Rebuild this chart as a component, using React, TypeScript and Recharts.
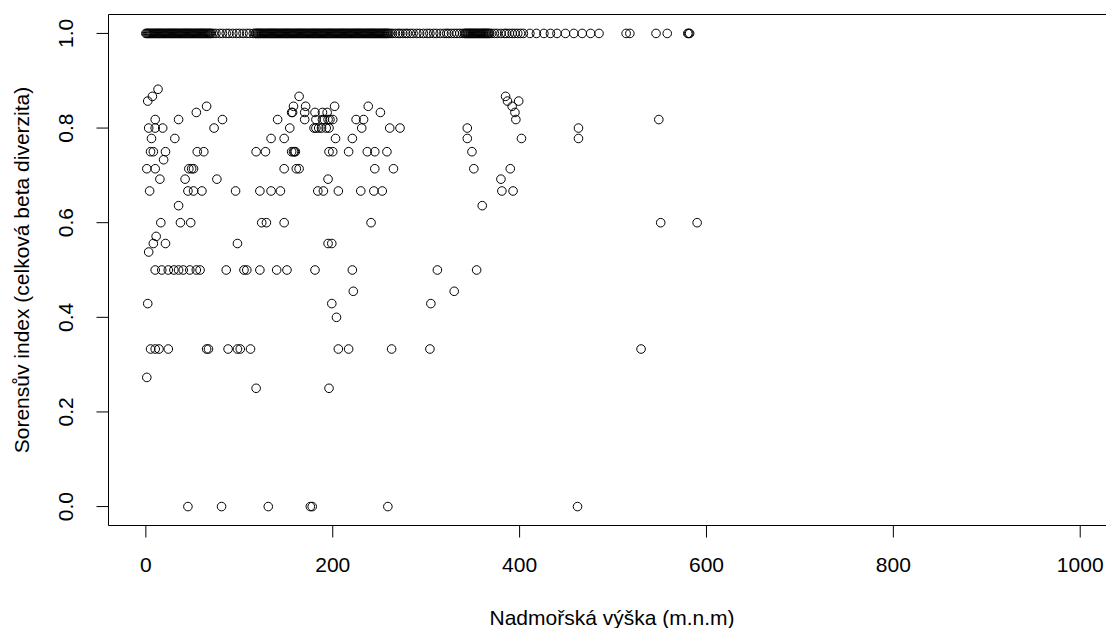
import { ReferenceLine, Scatter, ScatterChart, XAxis, YAxis } from "recharts";

// the picture fills the whole window, so drop the default body margin
if (typeof document !== "undefined") document.body.style.margin = "0";

const FONT = '"Liberation Sans", Arial, sans-serif';

const xTicks = [0, 200, 400, 600, 800, 1000];
const yTicks = [0, 0.2, 0.4, 0.6, 0.8, 1];
const yTickLabels = ["0.0", "0.2", "0.4", "0.6", "0.8", "1.0"];

// x positions (altitude) of the points, one array per Sorensen value
const x100 = [
  0, 1, 2, 3, 4, 5, 6, 7, 8, 9, 10, 11, 12, 13, 14, 15, 16, 17, 18, 19, 20, 21, 22, 23, 24,
  25, 26, 27, 28, 29, 30, 31, 32, 33, 34, 35, 36, 37, 38, 39, 40, 41, 42, 43, 44, 45, 46, 47,
  48, 49, 50, 51, 52, 53, 54, 55, 56, 57, 58, 59, 60, 61, 62, 63, 64, 65, 66, 67, 68, 69, 70,
  72, 75, 79, 82, 86, 89, 93, 97, 100, 104, 108, 111, 115,
  117, 118, 119, 120, 121, 122, 123, 124, 125, 126, 127, 128, 129, 130, 131, 132, 133, 134,
  135, 136, 137, 138, 139, 140, 141, 142, 143, 144, 145, 146, 147, 148, 149, 150, 151, 152,
  153, 154, 155, 156, 157, 158, 159, 160, 161, 162, 163, 164, 165, 166, 167, 168, 169, 170,
  171, 172, 173, 174, 175, 176, 177, 178, 179, 180, 181, 182, 183, 184, 185, 186, 187, 188,
  189, 190, 191, 192, 193, 194, 195, 196, 197, 198, 199, 200, 201, 202, 203, 204, 205, 206,
  207, 208, 209, 210, 211, 212, 213, 214, 215, 216, 217, 218, 219, 220, 221, 222, 223, 224,
  225, 226, 227, 228, 229, 230, 231, 232, 233, 234, 235, 236, 237, 238, 239, 240, 241, 242,
  243, 244, 245, 246, 247, 248, 249, 250, 251, 252, 253, 254, 255, 256, 257, 258, 259, 260,
  262, 264, 267, 270, 272, 275, 278, 280, 283, 286, 290, 293, 297, 301, 304, 308, 311, 315,
  319, 322, 324, 327, 330, 333, 336, 339, 341,
  342, 343, 344, 345, 346, 347, 348, 349, 350, 351, 352, 353, 354, 355, 356, 357, 358, 359,
  360, 361, 362, 363, 364, 365, 366, 367, 368,
  370, 373, 376, 380, 384, 386, 389, 392, 395, 398, 401, 404,
  411, 418, 426, 433, 440, 449, 458, 467, 476, 485, 514, 518, 546, 558, 580, 581, 582,
];
const x088 = [13];
const x087 = [7, 164, 385];
const x086 = [2, 387, 399];
const x085 = [65, 158, 171, 202, 238, 392];
const x083 = [54, 156, 157, 170, 181, 189, 194, 251, 395];
const x082 = [10, 35, 82, 141, 170, 182, 189, 191, 195, 197, 200, 225, 233, 396, 549];
const x080 = [3, 10, 18, 73, 154, 180, 182, 185, 188, 193, 196, 231, 261, 272, 344, 463];
const x078 = [6, 31, 134, 148, 203, 221, 344, 402, 463];
const x075 = [5, 8, 21, 55, 62, 118, 128, 156, 158, 159, 160, 196, 200, 217, 237, 245, 258, 349];
const x073 = [19];
const x071 = [1, 10, 46, 49, 51, 148, 161, 164, 245, 265, 351, 390];
const x069 = [15, 42, 76, 195, 380];
const x067 = [4, 45, 51, 60, 96, 122, 134, 144, 184, 190, 206, 230, 244, 253, 381, 393];
const x064 = [35, 360];
const x060 = [16, 37, 48, 124, 129, 148, 241, 551, 590];
const x057 = [11];
const x056 = [8, 21, 98, 195, 199];
const x054 = [3];
const x050 = [10, 17, 24, 30, 35, 40, 47, 54, 58, 86, 105, 108, 122, 140, 151, 181, 221, 312, 354];
const x045 = [222, 330];
const x043 = [2, 199, 305];
const x040 = [204];
const x033 = [5, 10, 14, 24, 65, 67, 88, 98, 101, 112, 206, 217, 263, 304, 530];
const x027 = [1];
const x025 = [118, 196];
const x000 = [45, 81, 131, 176, 178, 259, 462];

const groups: [number, number[]][] = [
  [1, x100], [0.882, x088], [0.867, x087], [0.857, x086], [0.846, x085], [0.833, x083],
  [0.818, x082], [0.8, x080], [0.778, x078], [0.75, x075], [0.733, x073], [0.714, x071],
  [0.692, x069], [0.667, x067], [0.636, x064], [0.6, x060], [0.571, x057], [0.556, x056],
  [0.538, x054], [0.5, x050], [0.455, x045], [0.429, x043], [0.4, x040], [0.333, x033],
  [0.273, x027], [0.25, x025], [0, x000],
];

const points = groups.flatMap(([y, xs]) => xs.map((x) => ({ x, y })));

const Ring = (props: any) => (
  <circle cx={props.cx} cy={props.cy} r={4.3} fill="none" stroke="#000" strokeWidth={1} />
);

const XTick = (props: any) => (
  <text
    x={props.x}
    y={564}
    textAnchor="middle"
    dominantBaseline="central"
    fontSize={21}
    fontFamily={FONT}
    fill="#000"
  >
    {props.payload.value}
  </text>
);

const YTick = (props: any) => {
  const label = yTickLabels[yTicks.indexOf(props.payload.value)];
  return (
    <text
      x={66}
      y={props.y}
      transform={`rotate(-90 66 ${props.y})`}
      textAnchor="middle"
      dominantBaseline="central"
      fontSize={21}
      fontFamily={FONT}
      fill="#000"
    >
      {label}
    </text>
  );
};

const titleStyle = {
  position: "absolute" as const,
  fontFamily: FONT,
  fontSize: 21,
  lineHeight: 1,
  whiteSpace: "nowrap" as const,
  color: "#000",
};

export default function App() {
  return (
    <div
      style={{
        position: "relative",
        width: 1106,
        height: 628,
        overflow: "hidden",
        background: "#fff",
      }}
    >
      <ScatterChart
        width={1106}
        height={620}
        margin={{ top: 14.5, right: 0, bottom: 7.5, left: 8 }}
      >
        <XAxis
          type="number"
          dataKey="x"
          domain={[-40, 1027.6]}
          ticks={xTicks}
          interval={0}
          allowDataOverflow
          height={87}
          tickSize={12}
          tickLine={{ stroke: "#000" }}
          axisLine={{ stroke: "#000" }}
          tick={(p: any) => <XTick {...p} />}
        />
        <YAxis
          type="number"
          dataKey="y"
          domain={[-0.04, 1.04]}
          ticks={yTicks}
          interval={0}
          allowDataOverflow
          width={100.5}
          tickSize={12}
          tickLine={{ stroke: "#000" }}
          axisLine={{ stroke: "#000" }}
          tick={(p: any) => <YTick {...p} />}
        />
        <ReferenceLine y={1.04} stroke="#000" ifOverflow="visible" />
        <Scatter data={points} shape={Ring} isAnimationActive={false} />
      </ScatterChart>
      <div style={{ ...titleStyle, left: 612, top: 617, transform: "translate(-50%, -50%)" }}>
        Nadmořská výška (m.n.m)
      </div>
      <div
        style={{
          ...titleStyle,
          left: 21,
          top: 270,
          transform: "translate(-50%, -50%) rotate(-90deg)",
        }}
      >
        Sorensův index (celková beta diverzita)
      </div>
    </div>
  );
}
